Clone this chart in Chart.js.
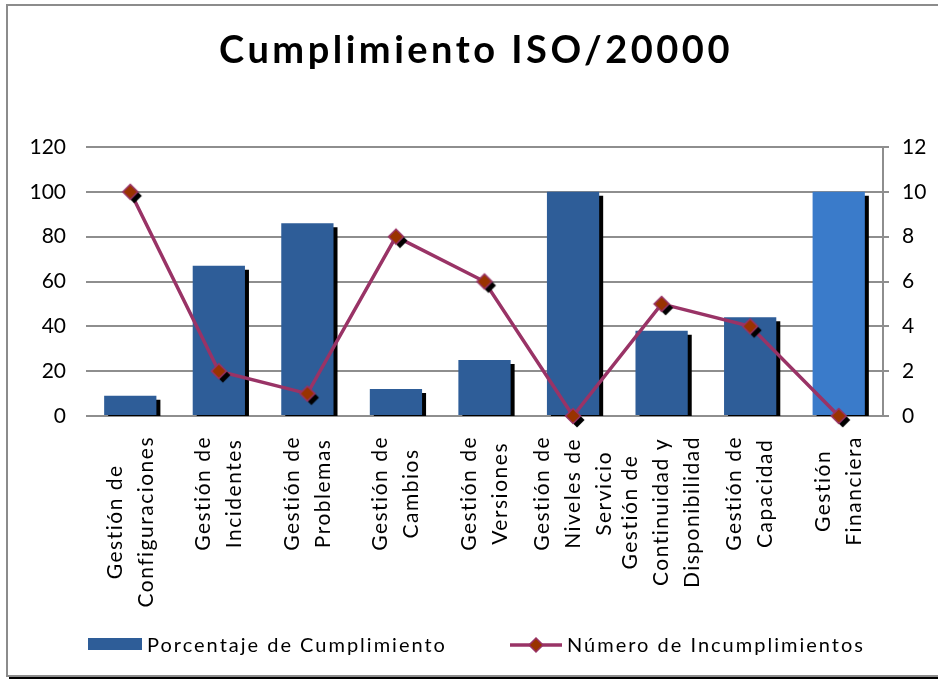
<!DOCTYPE html>
<html>
<head>
<meta charset="utf-8">
<script src="https://cdn.jsdelivr.net/npm/chart.js@4.4.1/dist/chart.umd.min.js"></script>
<style>
  body { margin: 0; background: #fff; }
  #frame { position: absolute; left: 6px; top: 4px; width: 1000px; height: 669px;
           border: 2px solid #8c8c8c; box-shadow: 3px 2px 0 #000; }
  #chart { position: absolute; left: 0; top: 0; }
</style>
</head>
<body>
<div id="frame"></div>
<canvas id="chart" width="938" height="679"></canvas>
<script>
const categories = [
  ['Gestión de', 'Configuraciones'],
  ['Gestión de', 'Incidentes'],
  ['Gestión de', 'Problemas'],
  ['Gestión de', 'Cambios'],
  ['Gestión de', 'Versiones'],
  ['Gestión de', 'Niveles de', 'Servicio'],
  ['Gestión de', 'Continuidad y', 'Disponibilidad'],
  ['Gestión de', 'Capacidad'],
  ['Gestión', 'Financiera']
];
const cumplimiento = [9, 67, 86, 12, 25, 100, 38, 44, 100];
const incumplimientos = [10, 2, 1, 8, 6, 0, 5, 4, 0];
const leftTicks = { min: 0, max: 120, step: 20 };
const rightTicks = { min: 0, max: 12, step: 2 };

const BAR = '#2e5d98';
const BAR_LIGHT = '#3a7bca';
const LINE = '#993366';
const MARK = '#993300';
const GRID = '#8e8e8e';
const FONT = 'Lato, "Open Sans", sans-serif';

// diamond with a black drop shadow, used as the point style
function diamondMarker() {
  const c = document.createElement('canvas');
  c.width = 34; c.height = 34;
  const g = c.getContext('2d');
  const d = (cx, cy, r) => {
    g.beginPath();
    g.moveTo(cx, cy - r); g.lineTo(cx + r, cy); g.lineTo(cx, cy + r); g.lineTo(cx - r, cy);
    g.closePath();
  };
  d(21, 21, 7.5); g.fillStyle = '#000'; g.fill();
  d(17, 17, 7.5); g.fillStyle = MARK; g.fill();
  g.lineWidth = 1.5; g.strokeStyle = LINE; g.stroke();
  return c;
}

const barShadow = {
  id: 'barShadow',
  beforeDatasetDraw(chart, args) {
    if (chart.data.datasets[args.index].type !== 'bar') return;
    const ctx = chart.ctx;
    ctx.save();
    ctx.shadowColor = '#000';
    ctx.shadowOffsetX = 4;
    ctx.shadowOffsetY = 4;
    ctx.shadowBlur = 0;
  },
  afterDatasetDraw(chart, args) {
    if (chart.data.datasets[args.index].type !== 'bar') return;
    chart.ctx.restore();
  }
};

// title, rotated category labels and legend
const chrome = {
  id: 'chrome',
  afterDraw(chart) {
    const ctx = chart.ctx;
    const area = chart.chartArea;

    ctx.save();
    ctx.fillStyle = '#000';
    ctx.font = 'bold 38px ' + FONT;
    ctx.letterSpacing = '3.5px';
    ctx.textAlign = 'center';
    ctx.textBaseline = 'alphabetic';
    ctx.fillText('Cumplimiento ISO/20000', 476, 63);
    ctx.restore();

    const x = chart.scales.x;
    ctx.save();
    ctx.fillStyle = '#000';
    ctx.font = '21px ' + FONT;
    ctx.letterSpacing = '1.5px';
    ctx.textAlign = 'center';
    ctx.textBaseline = 'middle';
    chart.data.labels.forEach((lines, i) => {
      const px = x.getPixelForTick(i);
      const maxW = Math.max(...lines.map(l => ctx.measureText(l).width));
      const yc = area.bottom + 20 + maxW / 2;
      lines.forEach((line, j) => {
        const off = (j - (lines.length - 1) / 2) * 31;
        ctx.save();
        ctx.translate(px + off, yc);
        ctx.rotate(-Math.PI / 2);
        ctx.fillText(line, 0, 0);
        ctx.restore();
      });
    });
    ctx.restore();

    const ly = 645;
    ctx.save();
    ctx.font = '20px ' + FONT;
    ctx.letterSpacing = '2px';
    ctx.textBaseline = 'middle';
    ctx.fillStyle = BAR;
    ctx.fillRect(88, ly - 7, 54, 12);
    ctx.fillStyle = '#000';
    ctx.fillText(chart.data.datasets[0].label, 147, ly + 1);

    ctx.strokeStyle = LINE;
    ctx.lineWidth = 3.5;
    ctx.beginPath();
    ctx.moveTo(510, ly); ctx.lineTo(562, ly);
    ctx.stroke();
    ctx.beginPath();
    ctx.moveTo(536, ly - 7); ctx.lineTo(543, ly); ctx.lineTo(536, ly + 7); ctx.lineTo(529, ly);
    ctx.closePath();
    ctx.fillStyle = MARK; ctx.fill();
    ctx.lineWidth = 1.5; ctx.stroke();
    ctx.fillStyle = '#000';
    ctx.fillText(chart.data.datasets[1].label, 567, ly + 1);
    ctx.restore();
  }
};

new Chart(document.getElementById('chart'), {
  data: {
    labels: categories,
    datasets: [
      {
        type: 'bar',
        label: 'Porcentaje de Cumplimiento',
        data: cumplimiento,
        yAxisID: 'y',
        order: 2,
        clip: 0,
        backgroundColor: cumplimiento.map((v, i) => i === cumplimiento.length - 1 ? BAR_LIGHT : BAR),
        barPercentage: 0.59,
        categoryPercentage: 1
      },
      {
        type: 'line',
        label: 'Número de Incumplimientos',
        data: incumplimientos,
        yAxisID: 'y2',
        order: 1,
        clip: false,
        borderColor: LINE,
        borderWidth: 3.5,
        tension: 0,
        pointStyle: diamondMarker(),
        pointRadius: 7
      }
    ]
  },
  options: {
    responsive: false,
    animation: false,
    layout: { padding: { top: 147, left: 0, right: 0, bottom: 0 } },
    plugins: {
      legend: { display: false },
      title: { display: false },
      tooltip: { enabled: false }
    },
    scales: {
      x: {
        grid: { display: false },
        border: { display: false },
        ticks: { display: false },
        afterFit: (s) => { s.height = 679 - 416; }
      },
      y: {
        position: 'left',
        min: leftTicks.min,
        max: leftTicks.max,
        ticks: { stepSize: leftTicks.step, padding: 20, color: '#000', font: { family: FONT, size: 21 } },
        grid: { color: GRID, lineWidth: 2, drawTicks: false },
        border: { display: false },
        afterFit: (s) => { s.width = 86; }
      },
      y2: {
        position: 'right',
        min: rightTicks.min,
        max: rightTicks.max,
        ticks: { stepSize: rightTicks.step, padding: 13, color: '#000', font: { family: FONT, size: 21 } },
        grid: { drawOnChartArea: false, color: GRID, lineWidth: 2, tickLength: 6 },
        border: { display: true, color: GRID, width: 2 },
        afterFit: (s) => { s.width = 938 - 883; }
      }
    }
  },
  plugins: [barShadow, chrome]
});
</script>
</body>
</html>
